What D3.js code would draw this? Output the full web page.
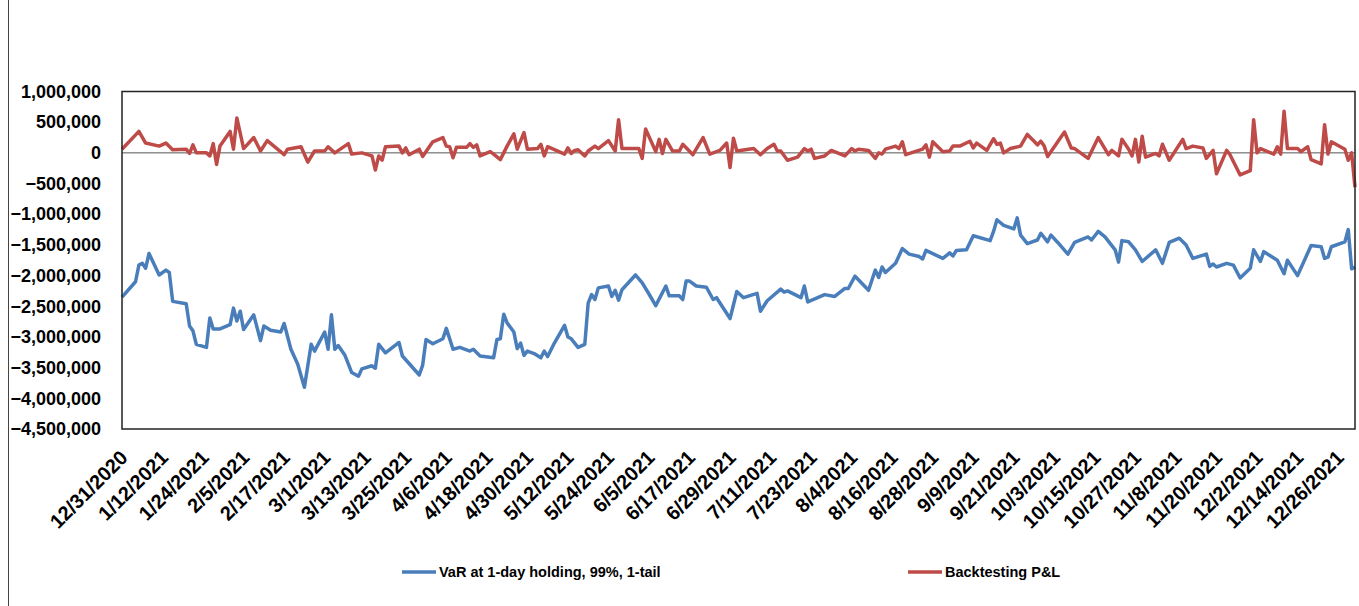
<!DOCTYPE html>
<html>
<head>
<meta charset="utf-8">
<script src="https://cdn.jsdelivr.net/npm/d3@7"></script>
<style>
  body { margin: 0; background: #fff; }
  svg text { font-family: "Liberation Sans", Arial, sans-serif; font-weight: bold; fill: #000; }
</style>
</head>
<body>
<div id="vis"></div>
<script>
const width = 1359;
const height = 606;

// series names
const seriesNames = ['VaR at 1-day holding, 99%, 1-tail', 'Backtesting P&L'];

// x tick labels (every 12 days)
const tickLabels = ['12/31/2020','1/12/2021','1/24/2021','2/5/2021','2/17/2021','3/1/2021','3/13/2021','3/25/2021',
  '4/6/2021','4/18/2021','4/30/2021','5/12/2021','5/24/2021','6/5/2021','6/17/2021','6/29/2021','7/11/2021',
  '7/23/2021','8/4/2021','8/16/2021','8/28/2021','9/9/2021','9/21/2021','10/3/2021','10/15/2021','10/27/2021',
  '11/8/2021','11/20/2021','12/2/2021','12/14/2021','12/26/2021'];

// y tick values
const yTickValues = [1000000, 500000, 0, -500000, -1000000, -1500000, -2000000, -2500000,
  -3000000, -3500000, -4000000, -4500000];

// VaR series
const varDates = ["12/31/2020","1/4/2021","1/5/2021","1/6/2021","1/7/2021","1/8/2021","1/11/2021","1/13/2021","1/14/2021","1/15/2021",
"1/19/2021","1/20/2021","1/21/2021","1/22/2021","1/25/2021","1/26/2021","1/27/2021","1/29/2021","2/1/2021","2/2/2021",
"2/3/2021","2/4/2021","2/5/2021","2/8/2021","2/10/2021","2/11/2021","2/13/2021","2/16/2021","2/17/2021","2/19/2021",
"2/21/2021","2/23/2021","2/25/2021","2/26/2021","3/1/2021","3/2/2021","3/3/2021","3/4/2021","3/5/2021","3/7/2021",
"3/9/2021","3/11/2021","3/12/2021","3/15/2021","3/16/2021","3/17/2021","3/19/2021","3/23/2021","3/24/2021","3/29/2021",
"3/30/2021","3/31/2021","4/2/2021","4/5/2021","4/6/2021","4/8/2021","4/10/2021","4/13/2021","4/14/2021","4/16/2021",
"4/20/2021","4/21/2021","4/22/2021","4/23/2021","4/24/2021","4/26/2021","4/27/2021","4/28/2021","4/29/2021","4/30/2021",
"5/2/2021","5/4/2021","5/5/2021","5/6/2021","5/8/2021","5/11/2021","5/12/2021","5/13/2021","5/15/2021","5/17/2021",
"5/18/2021","5/19/2021","5/20/2021","5/21/2021","5/24/2021","5/25/2021","5/26/2021","5/27/2021","5/28/2021","6/1/2021",
"6/3/2021","6/5/2021","6/7/2021","6/10/2021","6/11/2021","6/14/2021","6/15/2021","6/16/2021","6/17/2021","6/19/2021",
"6/22/2021","6/24/2021","6/25/2021","6/29/2021","7/1/2021","7/3/2021","7/7/2021","7/8/2021","7/10/2021","7/14/2021",
"7/15/2021","7/16/2021","7/20/2021","7/21/2021","7/22/2021","7/27/2021","7/30/2021","8/2/2021","8/3/2021","8/5/2021",
"8/9/2021","8/11/2021","8/12/2021","8/13/2021","8/14/2021","8/17/2021","8/19/2021","8/21/2021","8/24/2021","8/25/2021",
"8/26/2021","8/31/2021","9/2/2021","9/3/2021","9/4/2021","9/7/2021","9/9/2021","9/14/2021","9/15/2021","9/16/2021",
"9/18/2021","9/21/2021","9/22/2021","9/23/2021","9/25/2021","9/28/2021","9/29/2021","10/1/2021","10/2/2021","10/4/2021",
"10/7/2021","10/9/2021","10/13/2021","10/14/2021","10/16/2021","10/18/2021","10/21/2021","10/22/2021","10/23/2021","10/25/2021",
"10/27/2021","10/29/2021","11/2/2021","11/4/2021","11/6/2021","11/9/2021","11/11/2021","11/13/2021","11/17/2021","11/18/2021",
"11/19/2021","11/20/2021","11/23/2021","11/25/2021","11/27/2021","11/30/2021","12/1/2021","12/3/2021","12/4/2021","12/8/2021",
"12/10/2021","12/11/2021","12/14/2021","12/18/2021","12/21/2021","12/22/2021","12/23/2021","12/24/2021","12/28/2021","12/29/2021",
"12/30/2021","12/31/2021"];

const varValues = [-2350000,-2100000,-1830000,-1800000,-1880000,-1640000,-1990000,-1910000,-1950000,-2420000,
-2460000,-2820000,-2900000,-3120000,-3170000,-2690000,-2870000,-2870000,-2800000,-2530000,
-2740000,-2580000,-2880000,-2640000,-3060000,-2820000,-2890000,-2920000,-2780000,-3200000,
-3440000,-3820000,-3120000,-3230000,-2920000,-3200000,-2640000,-3200000,-3140000,-3300000,
-3580000,-3640000,-3520000,-3470000,-3510000,-3120000,-3260000,-3090000,-3310000,-3620000,
-3460000,-3040000,-3110000,-3030000,-2860000,-3200000,-3170000,-3230000,-3200000,-3310000,
-3340000,-3040000,-3030000,-2630000,-2770000,-2920000,-3190000,-3100000,-3300000,-3230000,
-3270000,-3340000,-3230000,-3320000,-3100000,-2810000,-3000000,-3030000,-3170000,-3120000,
-2450000,-2310000,-2390000,-2200000,-2170000,-2340000,-2240000,-2400000,-2230000,-1990000,
-2120000,-2300000,-2490000,-2170000,-2330000,-2330000,-2390000,-2090000,-2090000,-2170000,
-2190000,-2390000,-2360000,-2700000,-2260000,-2360000,-2290000,-2580000,-2410000,-2220000,
-2270000,-2250000,-2360000,-2170000,-2430000,-2310000,-2340000,-2210000,-2210000,-2010000,
-2240000,-1910000,-2030000,-1860000,-1950000,-1800000,-1560000,-1650000,-1690000,-1730000,
-1590000,-1720000,-1630000,-1680000,-1590000,-1580000,-1350000,-1430000,-1280000,-1090000,
-1180000,-1240000,-1060000,-1340000,-1480000,-1420000,-1310000,-1450000,-1340000,-1460000,
-1650000,-1460000,-1370000,-1420000,-1280000,-1370000,-1580000,-1780000,-1430000,-1450000,
-1580000,-1770000,-1580000,-1800000,-1460000,-1390000,-1500000,-1720000,-1650000,-1850000,
-1810000,-1860000,-1800000,-1830000,-2040000,-1880000,-1580000,-1770000,-1610000,-1750000,
-1970000,-1750000,-2000000,-1510000,-1530000,-1720000,-1700000,-1530000,-1450000,-1250000,
-1890000,-1860000];

// Backtesting P&L series
const plDates = ["12/31/2020","1/5/2021","1/7/2021","1/11/2021","1/13/2021","1/15/2021","1/19/2021","1/20/2021","1/21/2021","1/22/2021",
"1/25/2021","1/26/2021","1/27/2021","1/28/2021","1/29/2021","2/1/2021","2/2/2021","2/3/2021","2/5/2021","2/8/2021",
"2/10/2021","2/12/2021","2/17/2021","2/18/2021","2/22/2021","2/24/2021","2/26/2021","3/1/2021","3/2/2021","3/4/2021",
"3/8/2021","3/9/2021","3/12/2021","3/15/2021","3/16/2021","3/17/2021","3/18/2021","3/19/2021","3/23/2021","3/24/2021",
"3/25/2021","3/26/2021","3/29/2021","3/30/2021","4/2/2021","4/5/2021","4/6/2021","4/7/2021","4/8/2021","4/9/2021",
"4/12/2021","4/13/2021","4/14/2021","4/15/2021","4/16/2021","4/19/2021","4/20/2021","4/22/2021","4/24/2021","4/26/2021",
"4/27/2021","4/29/2021","4/30/2021","5/3/2021","5/4/2021","5/5/2021","5/6/2021","5/11/2021","5/12/2021","5/13/2021",
"5/14/2021","5/15/2021","5/17/2021","5/18/2021","5/20/2021","5/21/2021","5/24/2021","5/26/2021","5/27/2021","5/28/2021",
"6/2/2021","6/3/2021","6/4/2021","6/7/2021","6/8/2021","6/9/2021","6/10/2021","6/12/2021","6/14/2021","6/15/2021",
"6/18/2021","6/21/2021","6/23/2021","6/26/2021","6/28/2021","6/29/2021","6/30/2021","7/1/2021","7/6/2021","7/8/2021",
"7/10/2021","7/12/2021","7/13/2021","7/14/2021","7/16/2021","7/19/2021","7/21/2021","7/22/2021","7/23/2021","7/24/2021",
"7/27/2021","7/29/2021","8/2/2021","8/4/2021","8/5/2021","8/6/2021","8/9/2021","8/11/2021","8/12/2021","8/13/2021",
"8/14/2021","8/17/2021","8/18/2021","8/19/2021","8/20/2021","8/25/2021","8/26/2021","8/27/2021","8/28/2021","8/31/2021",
"9/2/2021","9/3/2021","9/5/2021","9/8/2021","9/9/2021","9/10/2021","9/13/2021","9/15/2021","9/16/2021","9/17/2021",
"9/18/2021","9/20/2021","9/23/2021","9/25/2021","9/27/2021","9/28/2021","9/29/2021","9/30/2021","10/1/2021","10/6/2021",
"10/8/2021","10/9/2021","10/13/2021","10/16/2021","10/19/2021","10/20/2021","10/22/2021","10/23/2021","10/25/2021","10/26/2021",
"10/27/2021","10/28/2021","10/29/2021","10/30/2021","11/2/2021","11/3/2021","11/4/2021","11/6/2021","11/10/2021","11/11/2021",
"11/13/2021","11/16/2021","11/17/2021","11/19/2021","11/20/2021","11/23/2021","11/24/2021","11/27/2021","11/30/2021","12/1/2021",
"12/2/2021","12/3/2021","12/7/2021","12/8/2021","12/9/2021","12/10/2021","12/11/2021","12/14/2021","12/15/2021","12/17/2021",
"12/18/2021","12/21/2021","12/22/2021","12/23/2021","12/24/2021","12/28/2021","12/29/2021","12/30/2021","12/31/2021"];

const plValues = [60000,350000,160000,110000,160000,50000,60000,-10000,130000,0,
0,-50000,150000,-190000,110000,350000,60000,570000,70000,250000,
30000,200000,-30000,60000,100000,-150000,30000,30000,100000,0,
150000,-20000,0,-50000,-280000,-50000,-120000,100000,110000,0,
80000,-30000,60000,-60000,180000,250000,110000,100000,-80000,90000,
90000,150000,90000,130000,-50000,20000,-20000,-110000,110000,310000,
60000,330000,60000,70000,140000,-50000,100000,-20000,80000,-10000,
40000,50000,-50000,30000,110000,70000,200000,30000,540000,70000,
70000,-90000,390000,20000,220000,-10000,220000,30000,30000,140000,
-30000,250000,-20000,40000,160000,-240000,240000,30000,70000,-30000,
70000,140000,30000,30000,-120000,-70000,70000,30000,60000,-90000,
-50000,40000,-50000,70000,30000,60000,40000,-90000,0,-20000,
60000,110000,70000,180000,-30000,60000,130000,-70000,180000,20000,
30000,110000,110000,190000,80000,160000,40000,230000,140000,160000,
0,70000,110000,300000,190000,130000,190000,110000,-60000,340000,
80000,70000,-90000,250000,-30000,40000,-50000,220000,60000,-50000,
220000,-150000,270000,-70000,-10000,-50000,140000,-120000,220000,70000,
110000,80000,-90000,40000,-340000,40000,-30000,-360000,-290000,540000,
0,70000,-20000,100000,-20000,680000,70000,70000,20000,100000,
-110000,-180000,460000,-20000,180000,60000,-120000,0,-560000];

const parseDate = d3.timeParse('%m/%d/%Y');

const plot = { left: 122, right: 1355, top: 91.5, bottom: 429 };

let vis = d3.select('#vis')
            .append('svg')
            .attr('width', width)
            .attr('height', height);

vis.append('rect')
   .attr('width', width)
   .attr('height', height)
   .attr('fill', '#fff');

// thin line on the far left of the picture
vis.append('line')
   .attr('x1', 8.5).attr('x2', 8.5)
   .attr('y1', 0).attr('y2', height)
   .attr('stroke', '#444')
   .attr('stroke-width', 1);

const x = d3.scaleTime()
            .domain([parseDate('12/31/2020'), parseDate('12/31/2021')])
            .range([plot.left, plot.right]);

const y = d3.scaleLinear()
            .domain([-4500000, 1000000])
            .range([plot.bottom, plot.top]);

// y axis labels
const yAxis = d3.axisLeft(y)
                .tickValues(yTickValues)
                .tickFormat(d3.format(','))
                .tickSize(0)
                .tickPadding(0);

vis.append('g')
   .attr('transform', `translate(${plot.left - 21},0)`)
   .call(yAxis)
   .call(g => g.select('.domain').remove())
   .selectAll('text')
   .style('font-size', '18px');

// zero line (category axis crossing at 0)
vis.append('line')
   .attr('x1', plot.left).attr('x2', plot.right)
   .attr('y1', y(0)).attr('y2', y(0))
   .attr('stroke', '#555')
   .attr('stroke-width', 1);

// x tick labels, rotated
vis.append('g')
   .selectAll('text')
   .data(tickLabels)
   .enter()
   .append('text')
   .attr('transform', d => `translate(${x(parseDate(d)) + 2},${plot.bottom + 25}) rotate(-45)`)
   .attr('text-anchor', 'end')
   .attr('dy', '0.35em')
   .style('font-size', '20px')
   .text(d => d);

// series
const line = d3.line()
               .x(d => x(d.date))
               .y(d => y(d.value));

const varData = varDates.map((d, i) => ({ date: parseDate(d), value: varValues[i] }));
const plData = plDates.map((d, i) => ({ date: parseDate(d), value: plValues[i] }));

const colors = ['#4a7ebb', '#be4b48'];

vis.append('path')
   .datum(varData)
   .attr('d', line)
   .attr('fill', 'none')
   .attr('stroke', colors[0])
   .attr('stroke-width', 3.5)
   .attr('stroke-linejoin', 'round');

vis.append('path')
   .datum(plData)
   .attr('d', line)
   .attr('fill', 'none')
   .attr('stroke', colors[1])
   .attr('stroke-width', 3.5)
   .attr('stroke-linejoin', 'round');

// plot area border
vis.append('rect')
   .attr('x', plot.left)
   .attr('y', plot.top)
   .attr('width', plot.right - plot.left)
   .attr('height', plot.bottom - plot.top)
   .attr('fill', 'none')
   .attr('stroke', '#222')
   .attr('stroke-width', 1.5);

// legend
const legendX = [402, 908];
const legend = vis.append('g')
                  .selectAll('g')
                  .data(seriesNames)
                  .enter()
                  .append('g')
                  .attr('transform', (d, i) => `translate(${legendX[i]},572)`);

legend.append('line')
      .attr('x1', 0).attr('x2', 34)
      .attr('stroke', (d, i) => colors[i])
      .attr('stroke-width', 3.5);

legend.append('text')
      .attr('x', 37)
      .attr('dy', '0.35em')
      .style('font-size', '14.5px')
      .text(d => d);
</script>
</body>
</html>
